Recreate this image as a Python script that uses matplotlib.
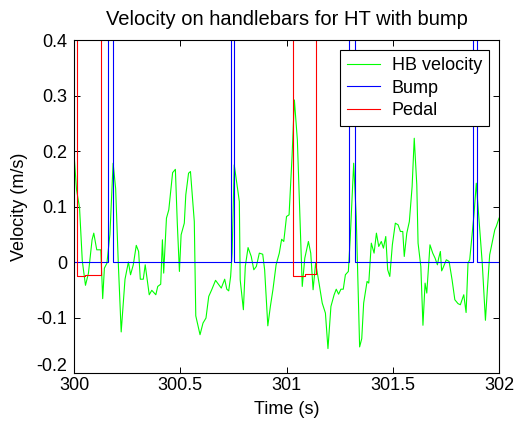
import matplotlib
matplotlib.use("Agg")
import matplotlib.pyplot as plt
import matplotlib.transforms as mtransforms

plt.rcParams['font.family'] = ['Liberation Sans', 'DejaVu Sans']
plt.rcParams['axes.unicode_minus'] = False

# HB velocity trace (time s, velocity m/s)
hb_time = [300.001, 300.012, 300.026, 300.039, 300.054, 300.068, 300.085, 300.093,
           300.107, 300.126, 300.135, 300.143, 300.155, 300.169, 300.184, 300.196,
           300.208, 300.222, 300.240, 300.256, 300.266, 300.279, 300.293, 300.304,
           300.312, 300.326, 300.335, 300.354, 300.366, 300.385, 300.394, 300.408,
           300.416, 300.422, 300.435, 300.446, 300.464, 300.477, 300.486, 300.496,
           300.504, 300.519, 300.526, 300.539, 300.548, 300.566, 300.573, 300.593,
           300.607, 300.621, 300.634, 300.648, 300.666, 300.693, 300.709, 300.719,
           300.728, 300.737, 300.744, 300.754, 300.778, 300.782, 300.797, 300.806,
           300.819, 300.834, 300.846, 300.858, 300.872, 300.888, 300.897, 300.912,
           300.924, 300.936, 300.951, 300.966, 300.977, 300.987, 301.000, 301.012,
           301.026, 301.037, 301.051, 301.074, 301.086, 301.103, 301.114, 301.125,
           301.137, 301.153, 301.168, 301.183, 301.195, 301.209, 301.224, 301.234,
           301.245, 301.256, 301.267, 301.277, 301.291, 301.300, 301.316, 301.328,
           301.344, 301.354, 301.363, 301.373, 301.379, 301.387, 301.399, 301.412,
           301.423, 301.434, 301.446, 301.456, 301.467, 301.476, 301.486, 301.498,
           301.512, 301.525, 301.536, 301.547, 301.554, 301.566, 301.578, 301.591,
           301.601, 301.613, 301.619, 301.632, 301.642, 301.652, 301.660, 301.669,
           301.675, 301.688, 301.699, 301.710, 301.716, 301.724, 301.730, 301.736,
           301.752, 301.765, 301.779, 301.792, 301.807, 301.818, 301.834, 301.845,
           301.854, 301.862, 301.882, 301.893, 301.912, 301.921, 301.936, 301.945,
           301.956, 301.980, 301.987, 302.000]
hb_vel = [0.189, 0.130, 0.098, 0.002, -0.042, -0.020, 0.040, 0.052,
          0.022, 0.022, -0.066, -0.011, -0.002, 0.050, 0.178, 0.132,
          0.002, -0.126, -0.031, 0.000, -0.023, -0.005, 0.030, 0.019,
          -0.031, -0.031, -0.005, -0.059, -0.051, -0.059, -0.044, -0.040,
          0.040, -0.020, 0.079, 0.094, 0.161, 0.167, 0.070, -0.017,
          0.049, 0.070, 0.121, 0.160, 0.163, 0.073, -0.097, -0.131,
          -0.110, -0.101, -0.062, -0.050, -0.033, -0.047, -0.031, -0.049,
          -0.052, -0.026, 0.016, 0.175, 0.109, -0.032, -0.086, -0.008,
          0.026, 0.010, -0.014, -0.008, 0.016, 0.014, -0.014, -0.115,
          -0.080, -0.050, -0.005, 0.016, 0.041, 0.037, 0.082, 0.085,
          0.190, 0.292, 0.220, -0.044, 0.007, 0.037, 0.016, -0.050,
          -0.002, -0.038, -0.074, -0.092, -0.156, -0.080, -0.059, -0.049,
          -0.058, -0.049, -0.049, -0.023, -0.017, 0.045, 0.178, 0.082,
          -0.153, -0.138, -0.074, -0.050, -0.035, -0.038, 0.034, 0.016,
          0.052, 0.028, 0.037, 0.025, 0.046, -0.014, -0.026, 0.031,
          0.070, 0.067, 0.055, 0.055, 0.010, 0.052, 0.073, 0.136,
          0.223, 0.139, 0.034, -0.008, -0.114, -0.038, -0.056, -0.002,
          0.031, 0.016, 0.007, -0.005, 0.007, 0.019, -0.016, -0.011,
          0.004, 0.001, -0.032, -0.068, -0.075, -0.077, -0.059, -0.091,
          -0.002, 0.004, 0.085, 0.142, 0.046, -0.002, -0.105, -0.050,
          0.013, 0.058, 0.064, 0.079]

# bump and pedal signals as steps (value holds until the next time)
bump_time = [300.0, 300.160, 300.184, 300.737, 300.755, 301.296, 301.322, 301.876, 301.895, 302.0]
bump_val = [0, 1, 0, 1, 0, 1, 0, 1, 0, 0]

pedal_time = [300.0, 300.013, 300.050, 300.129, 301.030, 301.087, 301.140, 302.0]
pedal_val = [1, -0.025, -0.023, 1, -0.025, -0.022, 1, 1]

x_ticks = [300, 300.5, 301, 301.5, 302]
x_labels = ['300', '300.5', '301', '301.5', '302']
y_ticks = [-0.2, -0.1, 0, 0.1, 0.2, 0.3, 0.4]
y_labels = ['-0.2', '-0.1', '0', '0.1', '0.2', '0.3', '0.4']

fig = plt.figure(figsize=(5.15, 4.23), dpi=100)
ax = fig.add_axes([0.1437, 0.1182, 0.8253, 0.7872])

ax.plot(hb_time, hb_vel, color=(0, 1, 0), lw=0.8, label='HB velocity')
ax.plot(bump_time, bump_val, color=(0, 0, 1), lw=0.8, drawstyle='steps-post', label='Bump')
ax.plot(pedal_time, pedal_val, color=(1, 0, 0), lw=0.8, drawstyle='steps-post', label='Pedal')

ax.set_xlim(300, 302)
ax.set_ylim(-0.2, 0.4)
ax.set_xticks(x_ticks)
ax.set_xticklabels(x_labels)
ax.set_yticks(y_ticks)
ax.set_yticklabels(y_labels)
ax.tick_params(direction='in', top=True, right=True, length=4, width=0.7, labelsize=13)
ax.tick_params(axis='x', pad=3)
ax.tick_params(axis='y', pad=5)
for s in ax.spines.values():
    s.set_linewidth(0.8)

# lowest y label sits a bit higher, clear of the x labels
lowest = ax.get_yticklabels()[0]
lowest.set_transform(lowest.get_transform() +
                     mtransforms.ScaledTranslation(0, 6 / 72, fig.dpi_scale_trans))

ax.set_xlabel('Time (s)', fontsize=13, labelpad=5)
ax.set_ylabel('Velocity (m/s)', fontsize=13, labelpad=6)
ax.set_title('Velocity on handlebars for HT with bump', fontsize=14.5, pad=11)

leg = ax.legend(loc='upper right', fontsize=13, fancybox=False, framealpha=1,
                edgecolor='black', handlelength=1.8, handletextpad=0.65,
                labelspacing=0.3, borderpad=0.4, borderaxespad=0.55)
leg.get_frame().set_linewidth(0.8)

fig.savefig('out.png', dpi=100)
